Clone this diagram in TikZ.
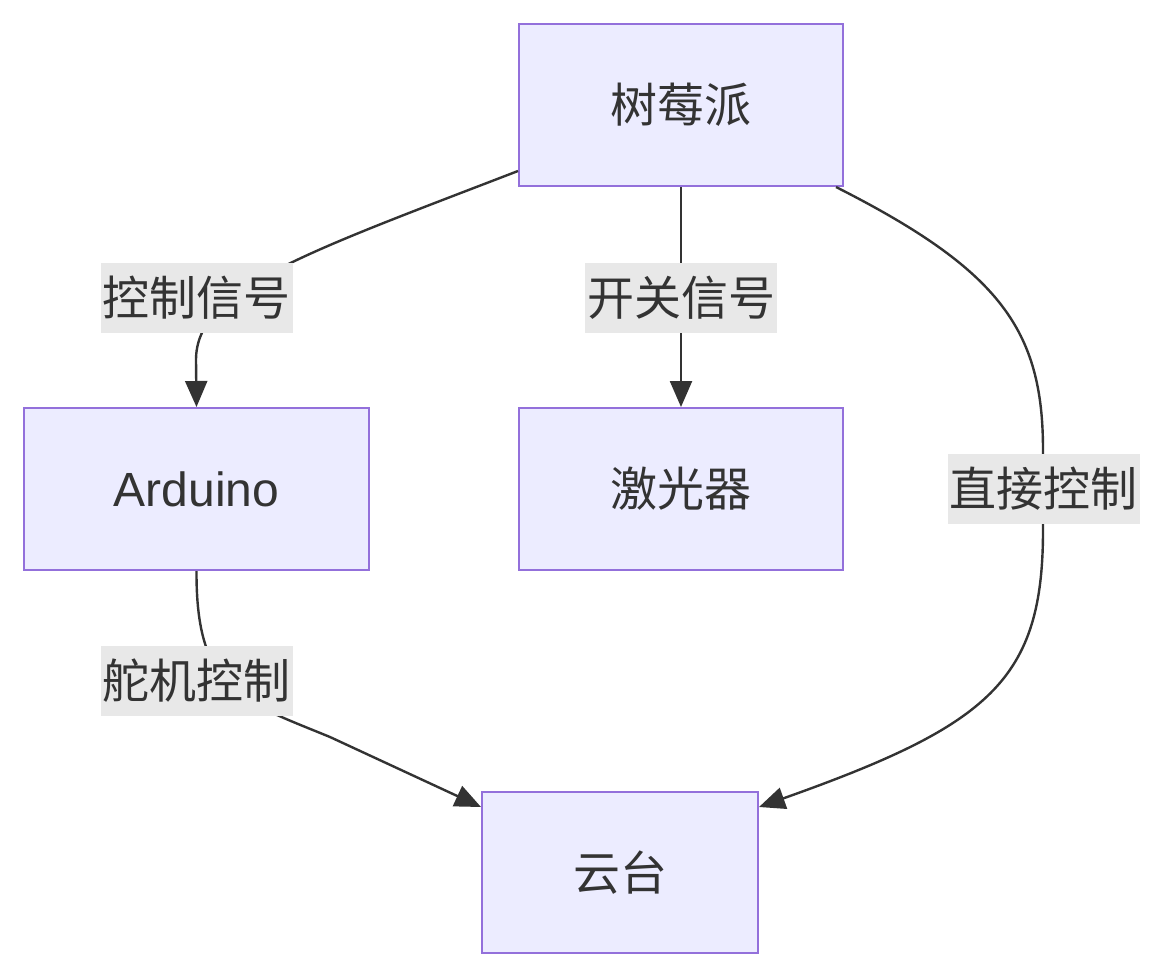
\documentclass[tikz,border=0pt]{standalone}
\usepackage{fontspec}
\setmainfont{Liberation Sans}
\newfontfamily\cjk{Noto Sans CJK SC}
\usetikzlibrary{arrows.meta,calc}
\definecolor{nodefill}{HTML}{ECECFF}
\definecolor{nodeline}{HTML}{9370DB}
\definecolor{ink}{HTML}{333333}
\definecolor{lblbg}{HTML}{E8E8E8}
\tikzset{
  box/.style={draw=nodeline, fill=nodefill, line width=2pt, text=ink, font=\cjk\fontsize{47}{52}\selectfont, inner sep=0pt},
  lbl/.style={fill=lblbg, text=ink, font=\cjk\fontsize{47}{52}\selectfont, inner xsep=2pt, inner ysep=0pt, minimum height=70pt},
  edge/.style={draw=ink, line width=2.4pt, -{Triangle[length=26pt,width=22pt]}}
}
\begin{document}
\begin{tikzpicture}[x=1pt,y=-1pt]
\useasboundingbox (0,0) rectangle (1164,978);
\node[box, minimum width=324pt, minimum height=162pt] (pi) at (681,105) {树莓派};
\node[box, minimum width=345pt, minimum height=162pt, font=\fontsize{48}{54}\selectfont] (ard) at (196.5,489) {Arduino};
\node[box, minimum width=324pt, minimum height=162pt] (laser) at (681,489) {激光器};
\node[box, minimum width=276pt, minimum height=161pt] (yt) at (620,872.5) {云台};

\draw[edge] ([yshift=16pt]pi.south west) .. controls (300,255) and (196,290) .. (196,360) -- (ard.north);
\draw[edge] (pi.south) -- (laser.north);
\draw[edge] ([xshift=-8pt]pi.south east) .. controls (1000,270) and (1043,330) .. (1043,450) -- (1043,530) .. controls (1043,680) and (990,725) .. ([yshift=-16pt]yt.north east);
\draw[edge] (ard.south) .. controls (196,690) and (240,700) .. (330,737) -- ([yshift=-16pt]yt.north west);

\node[lbl] (l1) at (196.5,298) {控制信号};
\node[lbl] (l2) at (681,298) {开关信号};
\node[lbl] (l3) at (1043.5,489) {直接控制};
\node[lbl] (l4) at (196.5,681) {舵机控制};
\end{tikzpicture}
\end{document}
